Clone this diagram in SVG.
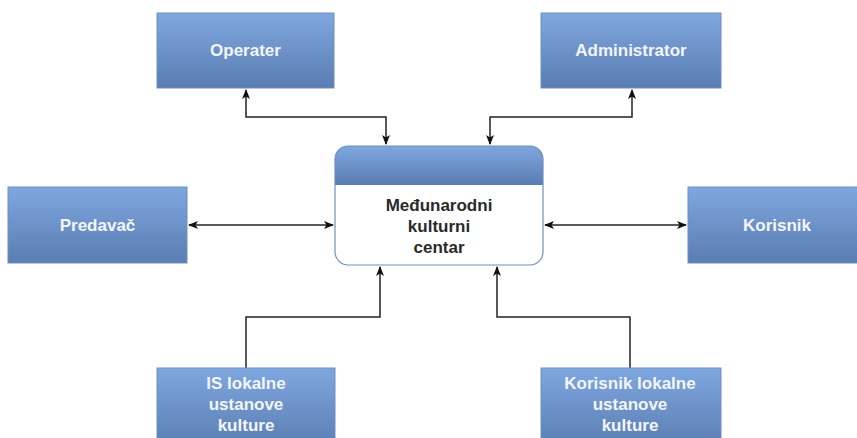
<svg xmlns="http://www.w3.org/2000/svg" width="857" height="438" viewBox="0 0 857 438">
  <defs>
    <linearGradient id="blueFill" x1="0" y1="0" x2="0" y2="1">
      <stop offset="0" stop-color="#7fa7df"/>
      <stop offset="1" stop-color="#5a7db2"/>
    </linearGradient>
    <linearGradient id="headFill" x1="0" y1="0" x2="0" y2="1">
      <stop offset="0" stop-color="#7fa7df"/>
      <stop offset="1" stop-color="#5a7db2"/>
    </linearGradient>
    <clipPath id="centerClip">
      <rect x="335" y="146" width="208" height="119" rx="13" ry="13"/>
    </clipPath>
    <marker id="arrow" viewBox="0 0 10 10" refX="9" refY="5" markerWidth="10" markerHeight="10" markerUnits="userSpaceOnUse" orient="auto-start-reverse">
      <path d="M0,1 L10,5 L0,9 L2.5,5 Z" fill="#111"/>
    </marker>
  </defs>
  <style>
    .actor { fill: url(#blueFill); stroke: #6f8fbf; stroke-width: 1; }
    .label { font-family: "Liberation Sans", Arial, sans-serif; font-size: 17px; font-weight: bold; fill: #f3f5f8; text-anchor: middle; }
    .center-label { font-family: "Liberation Sans", Arial, sans-serif; font-size: 17px; font-weight: bold; fill: #2a2a2a; text-anchor: middle; }
    .link { fill: none; stroke: #222; stroke-width: 1.5; }
  </style>
  <rect width="857" height="438" fill="#ffffff"/>

  <g id="connectors">
    <polyline class="link" points="246,90 246,117 386,117 386,144" marker-start="url(#arrow)" marker-end="url(#arrow)"/>
    <polyline class="link" points="632,90 632,117 490,117 490,144" marker-start="url(#arrow)" marker-end="url(#arrow)"/>
    <line class="link" x1="189" y1="225" x2="333" y2="225" marker-start="url(#arrow)" marker-end="url(#arrow)"/>
    <line class="link" x1="545" y1="225" x2="686" y2="225" marker-start="url(#arrow)" marker-end="url(#arrow)"/>
    <polyline class="link" points="246,368 246,317 380,317 380,267" marker-end="url(#arrow)"/>
    <polyline class="link" points="630,368 630,317 497,317 497,267" marker-end="url(#arrow)"/>
  </g>

  <g id="operater">
    <rect class="actor" x="157" y="13" width="177" height="75"/>
    <text class="label" x="245.5" y="56">Operater</text>
  </g>

  <g id="administrator">
    <rect class="actor" x="541" y="13" width="180" height="75"/>
    <text class="label" x="631" y="56">Administrator</text>
  </g>

  <g id="predavac">
    <rect class="actor" x="8" y="187" width="179" height="76"/>
    <text class="label" x="97.5" y="231">Predavač</text>
  </g>

  <g id="korisnik">
    <rect class="actor" x="688" y="187" width="178" height="76"/>
    <text class="label" x="777" y="231">Korisnik</text>
  </g>

  <g id="centar">
    <g clip-path="url(#centerClip)">
      <rect x="335" y="146" width="208" height="119" fill="#ffffff"/>
      <rect x="335" y="146" width="208" height="39" fill="url(#headFill)"/>
    </g>
    <rect x="335" y="146" width="208" height="119" rx="13" ry="13" fill="none" stroke="#6f8fbf" stroke-width="1.2"/>
    <text class="center-label" x="439" y="211">Međunarodni</text>
    <text class="center-label" x="439" y="232">kulturni</text>
    <text class="center-label" x="439" y="253">centar</text>
  </g>

  <g id="is-lokalne-ustanove">
    <rect class="actor" x="157" y="368" width="178" height="80"/>
    <text class="label" x="246" y="389">IS lokalne</text>
    <text class="label" x="246" y="410">ustanove</text>
    <text class="label" x="246" y="431">kulture</text>
  </g>

  <g id="korisnik-lokalne-ustanove">
    <rect class="actor" x="541" y="368" width="180" height="80"/>
    <text class="label" x="630" y="389">Korisnik lokalne</text>
    <text class="label" x="630" y="410">ustanove</text>
    <text class="label" x="630" y="431">kulture</text>
  </g>
</svg>
